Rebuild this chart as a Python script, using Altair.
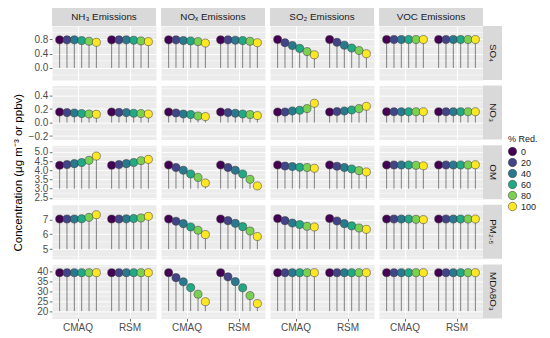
import altair as alt
import pandas as pd

SPECIES = ["SO₄", "NO₃", "OM", "PM₂.₅", "MDA8O₃"]
EMISSIONS = ["NH₃ Emissions", "NOₓ Emissions", "SO₂ Emissions", "VOC Emissions"]
MODELS = ["CMAQ", "RSM"]
PCT = [0, 20, 40, 60, 80, 100]
VIRIDIS = ["#440154", "#414487", "#2A788E", "#22A884", "#7AD151", "#FDE725"]

# ---- SO4 ----
so4_nh3_cmaq = [0.79, 0.79, 0.79, 0.77, 0.75, 0.72]
so4_nh3_rsm = [0.79, 0.79, 0.79, 0.78, 0.76, 0.74]
so4_nox_cmaq = [0.79, 0.79, 0.77, 0.76, 0.74, 0.70]
so4_nox_rsm = [0.79, 0.79, 0.78, 0.77, 0.75, 0.71]
so4_so2_cmaq = [0.80, 0.71, 0.63, 0.55, 0.46, 0.37]
so4_so2_rsm = [0.80, 0.72, 0.64, 0.56, 0.49, 0.40]
so4_voc_cmaq = [0.80, 0.80, 0.80, 0.80, 0.80, 0.80]
so4_voc_rsm = [0.80, 0.80, 0.80, 0.80, 0.80, 0.80]
# ---- NO3 ----
no3_nh3_cmaq = [0.156, 0.147, 0.142, 0.133, 0.127, 0.122]
no3_nh3_rsm = [0.156, 0.150, 0.147, 0.138, 0.133, 0.127]
no3_nox_cmaq = [0.156, 0.142, 0.127, 0.118, 0.097, 0.088]
no3_nox_rsm = [0.156, 0.147, 0.138, 0.127, 0.118, 0.103]
no3_so2_cmaq = [0.156, 0.156, 0.171, 0.181, 0.206, 0.285]
no3_so2_rsm = [0.156, 0.162, 0.171, 0.186, 0.206, 0.240]
no3_voc_cmaq = [0.160, 0.160, 0.160, 0.160, 0.160, 0.160]
no3_voc_rsm = [0.160, 0.160, 0.160, 0.160, 0.160, 0.160]
# ---- OM ----
om_nh3_cmaq = [4.27, 4.31, 4.36, 4.42, 4.54, 4.77]
om_nh3_rsm = [4.27, 4.31, 4.36, 4.42, 4.52, 4.59]
om_nox_cmaq = [4.29, 4.15, 4.00, 3.80, 3.61, 3.31]
om_nox_rsm = [4.29, 4.15, 4.00, 3.80, 3.51, 3.15]
om_so2_cmaq = [4.29, 4.23, 4.20, 4.16, 4.15, 4.11]
om_so2_rsm = [4.29, 4.22, 4.15, 4.07, 3.98, 3.91]
om_voc_cmaq = [4.29, 4.29, 4.29, 4.29, 4.27, 4.24]
om_voc_rsm = [4.29, 4.29, 4.29, 4.29, 4.29, 4.30]
# ---- PM2.5 ----
pm_nh3_cmaq = [7.02, 7.02, 7.02, 7.04, 7.13, 7.31]
pm_nh3_rsm = [7.02, 7.02, 7.03, 7.05, 7.09, 7.20]
pm_nox_cmaq = [7.02, 6.87, 6.71, 6.49, 6.27, 5.98]
pm_nox_rsm = [7.02, 6.91, 6.73, 6.51, 6.22, 5.85]
pm_so2_cmaq = [7.05, 6.91, 6.75, 6.65, 6.53, 6.49]
pm_so2_rsm = [7.05, 6.89, 6.71, 6.56, 6.42, 6.33]
pm_voc_cmaq = [7.02, 7.02, 7.02, 7.02, 7.00, 6.98]
pm_voc_rsm = [7.02, 7.02, 7.02, 7.02, 7.02, 7.02]
# ---- MDA8O3 ----
o3_nh3_cmaq = [39.3, 39.3, 39.3, 39.3, 39.3, 39.3]
o3_nh3_rsm = [39.3, 39.3, 39.3, 39.3, 39.3, 39.3]
o3_nox_cmaq = [39.3, 36.8, 34.7, 31.8, 28.5, 24.7]
o3_nox_rsm = [39.3, 37.2, 34.8, 31.7, 27.8, 23.8]
o3_so2_cmaq = [39.3, 39.3, 39.3, 39.3, 39.3, 39.3]
o3_so2_rsm = [39.3, 39.3, 39.3, 39.3, 39.3, 39.3]
o3_voc_cmaq = [39.3, 39.3, 39.3, 39.3, 39.3, 39.3]
o3_voc_rsm = [39.3, 39.3, 39.3, 39.3, 39.3, 39.3]

VALUES = [
    [(so4_nh3_cmaq, so4_nh3_rsm), (so4_nox_cmaq, so4_nox_rsm), (so4_so2_cmaq, so4_so2_rsm), (so4_voc_cmaq, so4_voc_rsm)],
    [(no3_nh3_cmaq, no3_nh3_rsm), (no3_nox_cmaq, no3_nox_rsm), (no3_so2_cmaq, no3_so2_rsm), (no3_voc_cmaq, no3_voc_rsm)],
    [(om_nh3_cmaq, om_nh3_rsm), (om_nox_cmaq, om_nox_rsm), (om_so2_cmaq, om_so2_rsm), (om_voc_cmaq, om_voc_rsm)],
    [(pm_nh3_cmaq, pm_nh3_rsm), (pm_nox_cmaq, pm_nox_rsm), (pm_so2_cmaq, pm_so2_rsm), (pm_voc_cmaq, pm_voc_rsm)],
    [(o3_nh3_cmaq, o3_nh3_rsm), (o3_nox_cmaq, o3_nox_rsm), (o3_so2_cmaq, o3_so2_rsm), (o3_voc_cmaq, o3_voc_rsm)],
]

# per-row y scale settings
Y_DOMAIN = [[-0.34, 1.18], [-0.252, 0.546], [2.43, 5.36], [4.36, 7.97], [16.35, 43.45]]
Y_TICKS = [[0, 0.4, 0.8], [-0.2, 0, 0.2, 0.4], [2.5, 3, 3.5, 4, 4.5, 5], [5, 6, 7, 8], [20, 25, 30, 35, 40]]
Y_MINOR = [[-0.2, 0.2, 0.6, 1.0], [-0.1, 0.1, 0.3, 0.5], [2.75, 3.25, 3.75, 4.25, 4.75, 5.25],
           [4.5, 5.5, 6.5, 7.5], [17.5, 22.5, 27.5, 32.5, 37.5, 42.5]]
Y_FMT = [".1f", ".1f", ".1f", "d", "d"]
BASE = [0, 0, 3, 5, 20]

W = 104
H = 54
GAP_ROW = 5.6
GAP_COL = 5
STRIP = 19
FONT = "Liberation Sans"
YTITLE = "Concentration (μg m⁻³ or ppbv)"

color_scale = alt.Scale(domain=PCT, range=VIRIDIS)
legend = alt.Legend(title="% Red.", orient="none", legendX=456, legendY=109,
                    titleFontSize=9, titleFontWeight="normal", titleColor="#1A1A1A",
                    labelFontSize=9, labelColor="#1A1A1A", symbolType="circle",
                    symbolSize=70, symbolStrokeColor="#333333", symbolStrokeWidth=0.5,
                    rowPadding=0, titlePadding=3, labelOffset=4)


def panel(r, c):
    cm, rs = VALUES[r][c]
    rows = []
    for m, vals in zip(MODELS, (cm, rs)):
        for p, v in zip(PCT, vals):
            rows.append({"model": m, "pct": p, "value": v, "base": BASE[r]})
    df = pd.DataFrame(rows)
    gdf = pd.DataFrame({"g": Y_MINOR[r]})

    if r == 4:
        xaxis = alt.Axis(title=None, grid=True, gridColor="white", gridWidth=1, domain=False,
                         labelAngle=0, labelFontSize=10, labelColor="#4D4D4D", labelFont=FONT,
                         tickColor="#333333", tickSize=2.7, tickWidth=0.7, labelPadding=1)
    else:
        xaxis = alt.Axis(title=None, grid=True, gridColor="white", gridWidth=1, domain=False,
                         labels=False, ticks=False)
    if c == 0:
        yaxis = alt.Axis(values=Y_TICKS[r], format=Y_FMT[r], grid=True, gridColor="white", gridWidth=1,
                         domain=False, labelFontSize=10, labelColor="#4D4D4D", labelFont=FONT,
                         labelOverlap=False, labelFlush=False, tickColor="#333333", tickSize=2.7,
                         tickWidth=0.7, labelPadding=1.5,
                         title=YTITLE if r == 2 else None, titleFontSize=11.5, titleFont=FONT,
                         titleFontWeight="normal", titleColor="#000000", titlePadding=10)
    else:
        yaxis = alt.Axis(values=Y_TICKS[r], grid=True, gridColor="white", gridWidth=1,
                         domain=False, labels=False, ticks=False, title=None)

    x = alt.X("model:N", scale=alt.Scale(domain=MODELS, paddingInner=0, paddingOuter=0), axis=xaxis)
    xo = alt.XOffset("pct:O", scale=alt.Scale(domain=PCT, paddingInner=0, paddingOuter=0.54))
    yscale = alt.Scale(domain=Y_DOMAIN[r], nice=False, zero=False)
    y = alt.Y("value:Q", scale=yscale, axis=yaxis)

    minor = alt.Chart(gdf).mark_rule(color="white", strokeWidth=0.5).encode(
        y=alt.Y("g:Q", scale=yscale, axis=yaxis))
    base = alt.Chart(df)
    rules = base.mark_rule(color="#7F7F7F", strokeWidth=1).encode(x=x, xOffset=xo, y=y, y2="base:Q")
    pts = base.mark_circle(size=65, opacity=1, stroke="#333333", strokeWidth=0.5).encode(
        x=x, xOffset=xo, y=y,
        color=alt.Color("pct:O", scale=color_scale, legend=legend))
    layers = [minor, rules, pts]

    # facet strips (decoration drawn just outside the panel)
    if r == 0:
        sdf = pd.DataFrame({"t": [EMISSIONS[c]]})
        layers.append(alt.Chart(sdf).mark_rect(color="#D9D9D9").encode(
            x=alt.value(0), x2=alt.value(W), y=alt.value(-STRIP), y2=alt.value(0)))
        layers.append(alt.Chart(sdf).mark_text(fontSize=9.8, color="#1A1A1A", font=FONT).encode(
            text="t:N", x=alt.value(W / 2), y=alt.value(-STRIP / 2)))
    if c == 3:
        sdf = pd.DataFrame({"t": [SPECIES[r]]})
        layers.append(alt.Chart(sdf).mark_rect(color="#D9D9D9").encode(
            x=alt.value(W), x2=alt.value(W + STRIP), y=alt.value(0), y2=alt.value(H)))
        layers.append(alt.Chart(sdf).mark_text(fontSize=9.8, color="#1A1A1A", font=FONT, angle=90).encode(
            text="t:N", x=alt.value(W + STRIP / 2), y=alt.value(H / 2)))

    return alt.layer(*layers).properties(
        width=W, height=H, view=alt.ViewBackground(fill="#EBEBEB", stroke="transparent"))


panels = [panel(r, c) for r in range(5) for c in range(4)]

chart = alt.concat(*panels, columns=4, spacing=alt.RowColnumber(row=GAP_ROW, column=GAP_COL),
                   bounds="flush").properties(
    padding={"left": 4, "top": -2, "right": 0, "bottom": 0}
).configure(font=FONT).configure_view(stroke="transparent")

chart.save("out.html", embed_options={"renderer": "svg", "actions": False})
